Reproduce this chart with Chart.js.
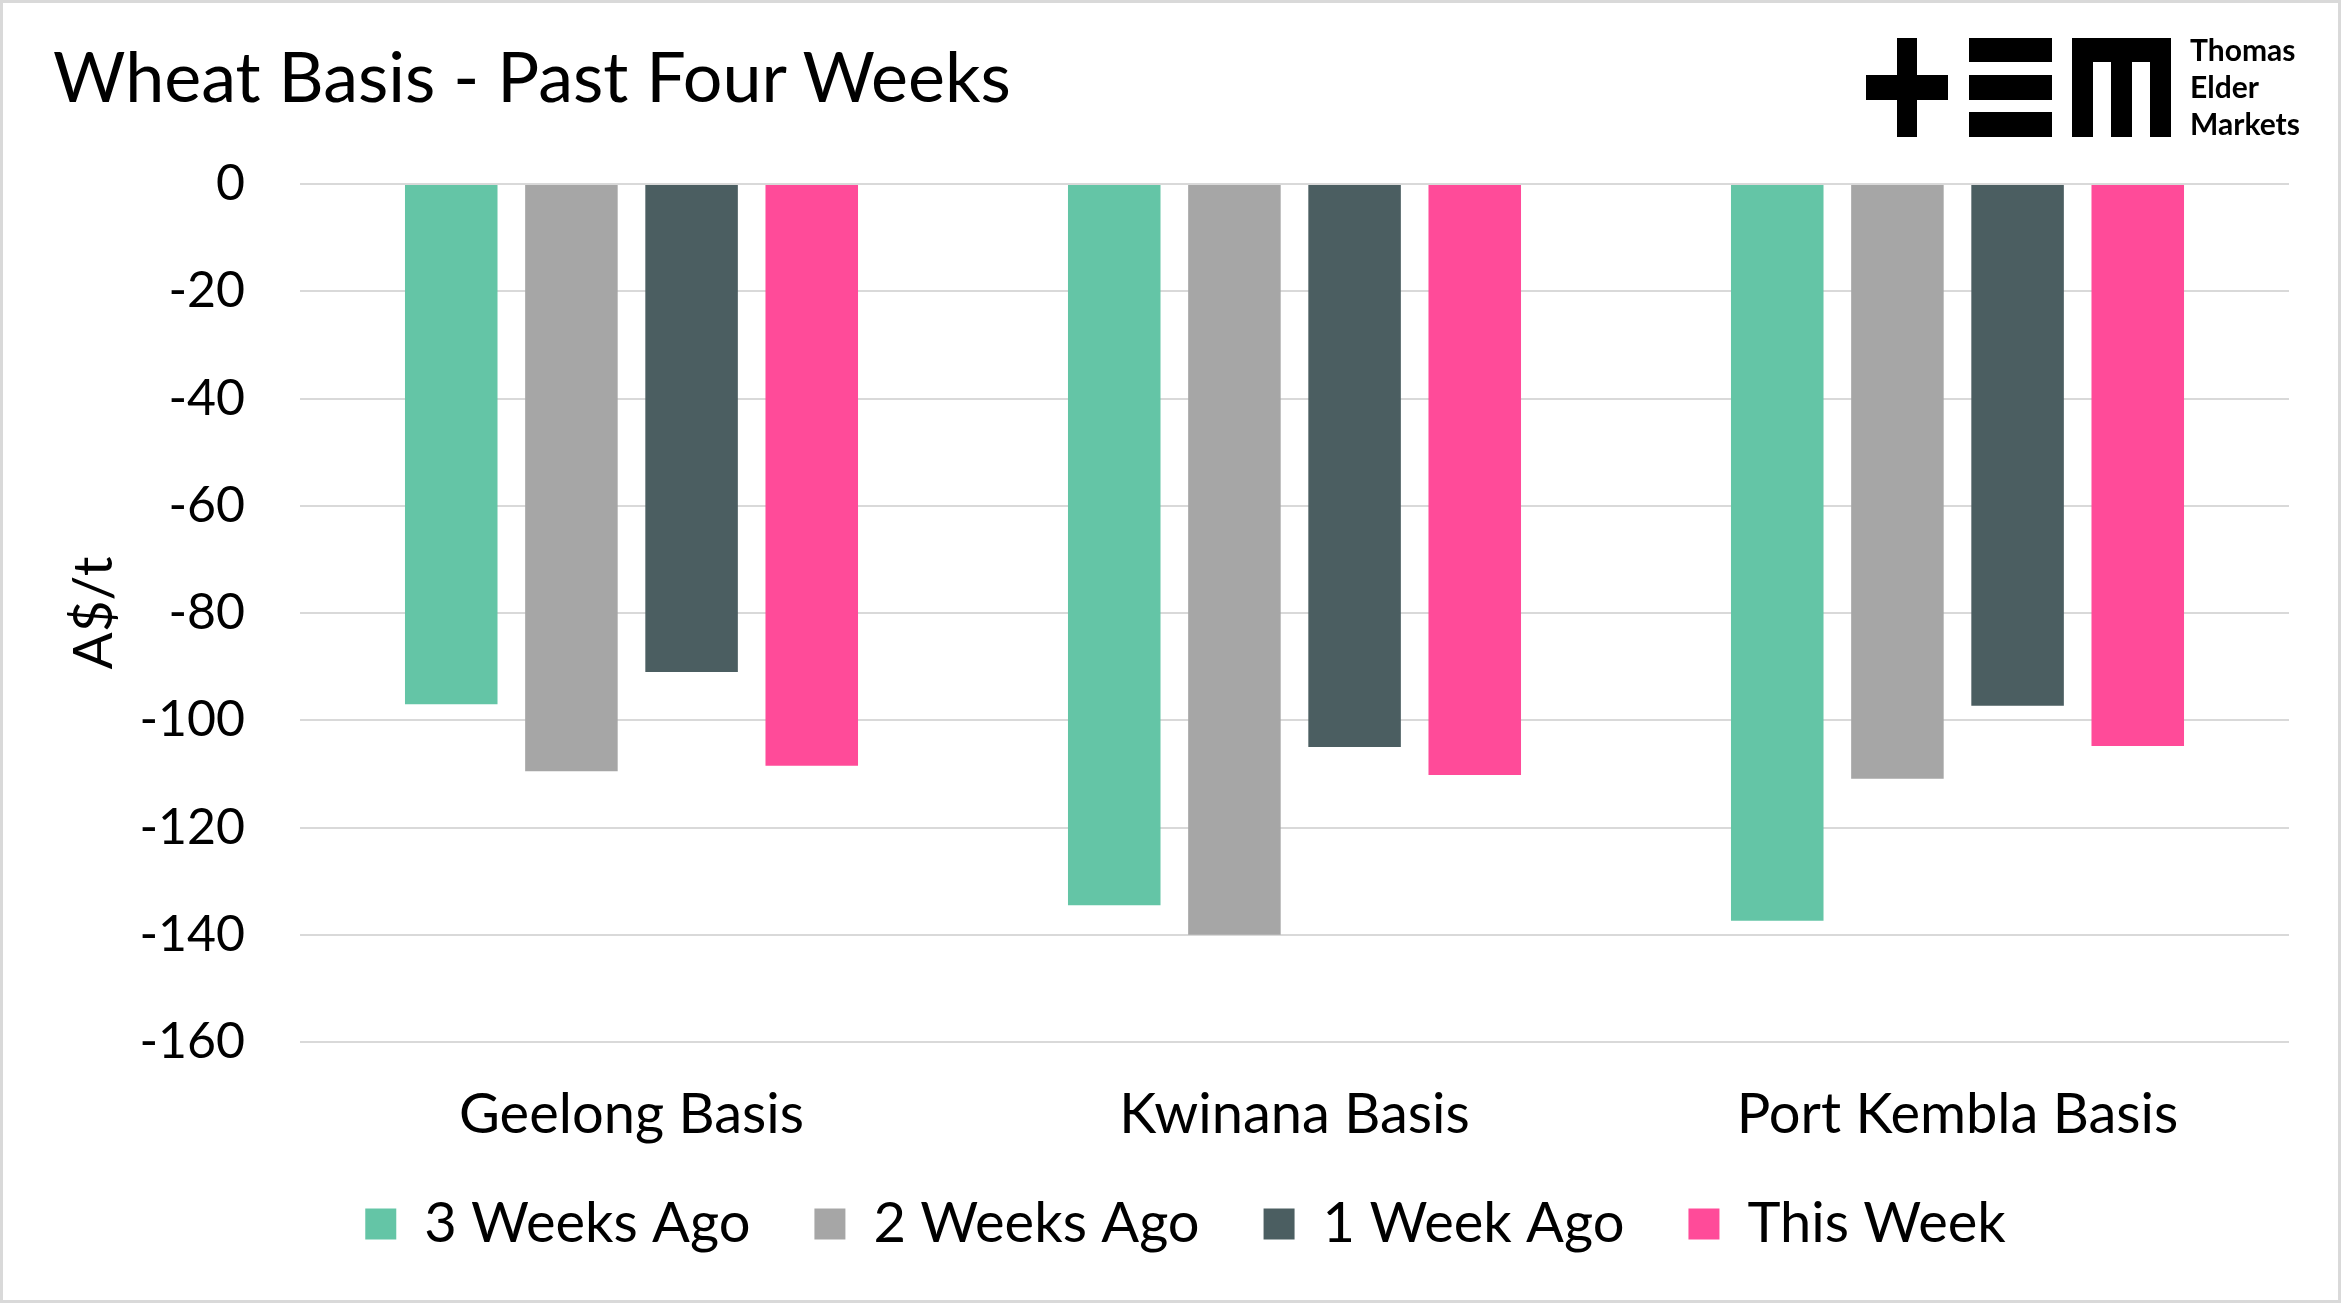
<!DOCTYPE html>
<html>
<head>
<meta charset="utf-8">
<script src="https://cdn.jsdelivr.net/npm/chart.js@4"></script>
<style>
  html, body { margin: 0; padding: 0; background: #fff; }
  #wrap { position: relative; width: 2341px; height: 1303px; overflow: hidden; }
  #frame { position: absolute; left: 0; top: 0; width: 2335px; height: 1297px; border: 3px solid #d9d9d9; pointer-events: none; }
  #title { position: absolute; left: 53px; top: 40px; font: 70px Lato, sans-serif; line-height: 1; color: #000; white-space: nowrap; }
  .blk { position: absolute; background: #000; }
  #brand { position: absolute; left: 2190px; top: 31px; font: bold 30px Lato, sans-serif; line-height: 37px; color: #000; }
</style>
</head>
<body>
<div id="wrap">
  <canvas id="chart" width="2341" height="1303"></canvas>
  <div id="title">Wheat Basis - Past Four Weeks</div>
  <!-- logo -->
  <div class="blk" style="left:1866px;top:75px;width:82px;height:25px"></div>
  <div class="blk" style="left:1897px;top:38px;width:20px;height:99px"></div>
  <div class="blk" style="left:1969px;top:38px;width:83px;height:24px"></div>
  <div class="blk" style="left:1969px;top:75px;width:83px;height:25px"></div>
  <div class="blk" style="left:1969px;top:112px;width:83px;height:25px"></div>
  <div class="blk" style="left:2072px;top:38px;width:99px;height:24px"></div>
  <div class="blk" style="left:2072px;top:38px;width:21px;height:99px"></div>
  <div class="blk" style="left:2111px;top:38px;width:21px;height:99px"></div>
  <div class="blk" style="left:2150px;top:38px;width:21px;height:99px"></div>
  <div id="brand">Thomas<br>Elder<br>Markets</div>
  <div id="frame"></div>
</div>
<script>
// values (A$/t)
const categories = ['Geelong Basis', 'Kwinana Basis', 'Port Kembla Basis'];
const seriesNames = ['3 Weeks Ago', '2 Weeks Ago', '1 Week Ago', 'This Week'];
const threeWeeksAgo = [-97.0, -134.5, -137.4];
const twoWeeksAgo = [-109.5, -140.0, -110.9];
const oneWeekAgo = [-91.0, -105.0, -97.3];
const thisWeek = [-108.5, -110.2, -104.8];
const colors = ['#64c5a6', '#a6a6a6', '#4b5e61', '#ff4b99'];

Chart.defaults.font.family = 'Lato, sans-serif';
Chart.defaults.color = '#000';

const datasets = [threeWeeksAgo, twoWeeksAgo, oneWeekAgo, thisWeek].map((d, i) => ({
  label: seriesNames[i],
  data: d,
  backgroundColor: colors[i],
  borderWidth: 0,
  categoryPercentage: 0.725,
  barPercentage: 0.77,
}));

// legend sits centred on the whole image, not the plot width
const legendShift = {
  id: 'legendShift',
  afterLayout(chart) {
    const lg = chart.legend;
    if (lg) { lg.left += 41; lg.right += 41; }
  },
};

new Chart(document.getElementById('chart'), {
  type: 'bar',
  data: { labels: categories, datasets },
  plugins: [legendShift],
  options: {
    responsive: false,
    animation: false,
    devicePixelRatio: 1,
    layout: { padding: { top: 184, right: 52, bottom: 41, left: 0 } },
    scales: {
      x: {
        grid: { display: false, drawTicks: false },
        border: { display: false },
        ticks: { font: { size: 56 }, padding: 39 },
        afterFit: s => {
          s.height = 90;
          s._computeLabelArea = () => undefined; // don't clip labels to the short axis box
        },
      },
      y: {
        min: -160,
        max: 0,
        ticks: { stepSize: 20, font: { size: 50 }, padding: 55 },
        grid: { color: '#d9d9d9', lineWidth: 2, drawTicks: false },
        border: { display: false },
        title: { display: true, text: 'A$/t', font: { size: 55 }, padding: { top: 61, bottom: 0 } },
        afterFit: s => { s.width = 300; },
      },
    },
    plugins: {
      legend: {
        position: 'bottom',
        labels: { boxWidth: 31, boxHeight: 31, padding: 64, font: { size: 56 } },
      },
      tooltip: { enabled: false },
    },
  },
});
</script>
</body>
</html>
